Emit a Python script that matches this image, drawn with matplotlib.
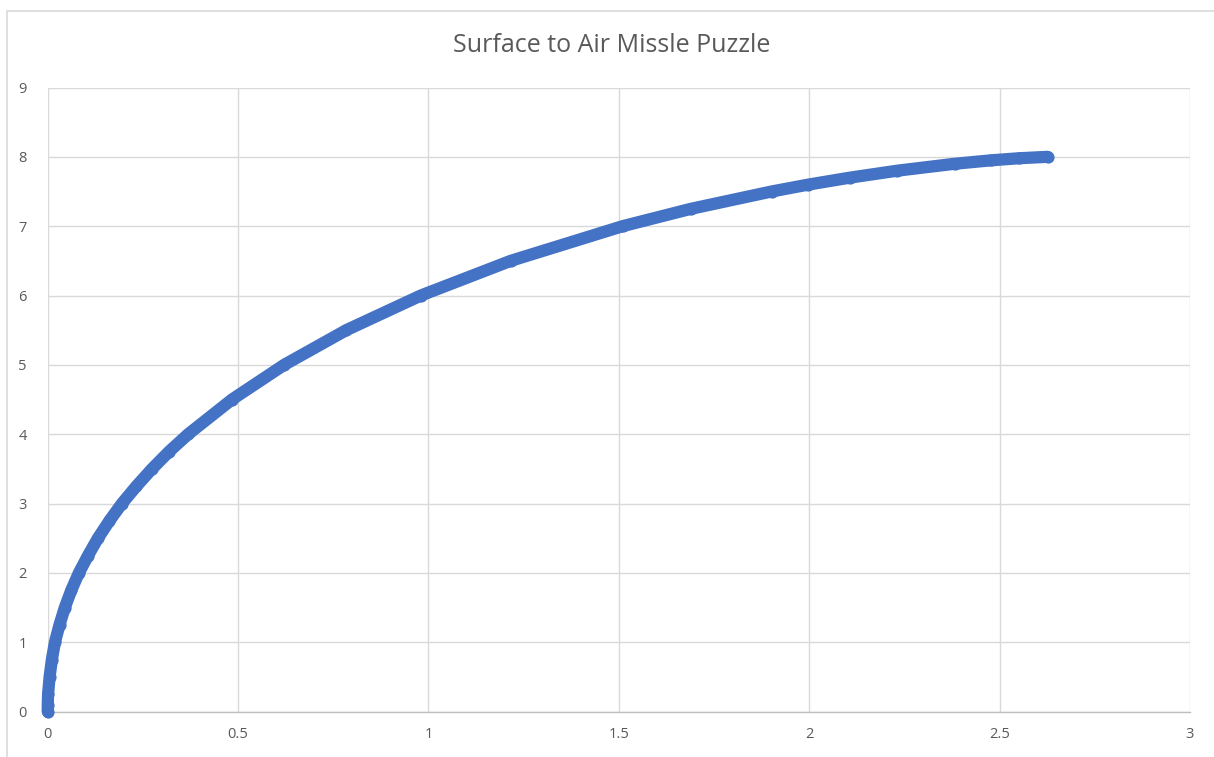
import matplotlib
matplotlib.use("Agg")
import matplotlib.pyplot as plt
from matplotlib.patches import Rectangle

# Data (missile path: horizontal distance, altitude)
path_y = [0.0, 0.1, 0.25, 0.5, 0.75, 1.0, 1.25, 1.5, 1.75, 2.0, 2.25, 2.5,
          2.75, 3.0, 3.25, 3.5, 3.75, 4.0, 4.5, 5.0, 5.5, 6.0, 6.5, 7.0, 7.25,
          7.5, 7.6, 7.7, 7.8, 7.9, 7.95, 7.98, 8.0]
path_x = [0.0, 0.0002, 0.001, 0.005, 0.011, 0.019, 0.031, 0.045, 0.062, 0.082,
          0.106, 0.132, 0.162, 0.195, 0.233, 0.274, 0.319, 0.369, 0.484, 0.621,
          0.784, 0.980, 1.216, 1.510, 1.689, 1.901, 1.998, 2.107, 2.231, 2.382,
          2.478, 2.552, 2.626]

x_ticks = [0, 0.5, 1, 1.5, 2, 2.5, 3]
x_tick_labels = ["0", "0.5", "1", "1.5", "2", "2.5", "3"]
y_ticks = [0, 1, 2, 3, 4, 5, 6, 7, 8, 9]
y_tick_labels = [str(v) for v in y_ticks]
title = "Surface to Air Missle Puzzle"

W, H = 1214, 757
fig = plt.figure(figsize=(W / 100, H / 100), dpi=100)
fig.patch.set_facecolor("white")

# outer chart border (only left/top visible in the reference)
fig.add_artist(Rectangle((6.5 / W, -0.05), 1.2, (H - 10.5) / H + 0.05,
                         transform=fig.transFigure, fill=False,
                         edgecolor="#d9d9d9", lw=1.2))

left, right = 47.7 / W, 1190 / W
bottom, top = (H - 711.5) / H, (H - 87.5) / H
ax = fig.add_axes([left, bottom, right - left, top - bottom])
ax.set_xlim(0, 3)
ax.set_ylim(0, 9)
ax.set_xticks(x_ticks)
ax.set_xticklabels(x_tick_labels)
ax.set_yticks(y_ticks)
ax.set_yticklabels(y_tick_labels)
ax.grid(True, color="#d9d9d9", lw=1.0)
ax.set_axisbelow(True)
for s in ["top", "right", "left"]:
    ax.spines[s].set_visible(False)
ax.spines["bottom"].set_color("#bfbfbf")
ax.spines["bottom"].set_linewidth(1.0)
ax.tick_params(axis="x", length=0, labelsize=10.5, colors="#595959", pad=11)
ax.tick_params(axis="y", length=0, labelsize=10.5, colors="#595959", pad=15)
for lab in ax.get_xticklabels() + ax.get_yticklabels():
    lab.set_family("Open Sans")

ax.plot(path_x, path_y, "-", color="#4472C4", lw=8.8,
        solid_capstyle="round", solid_joinstyle="round", zorder=3, clip_on=False)
ax.plot(path_x, path_y, "o", color="#4472C4", ms=8.8, mew=0,
        zorder=4, clip_on=False)

fig.text(612 / W, (H - 45) / H, title, ha="center", va="center",
         fontsize=18, color="#595959", family="Open Sans")

fig.savefig("out.png", dpi=100, facecolor="white")
